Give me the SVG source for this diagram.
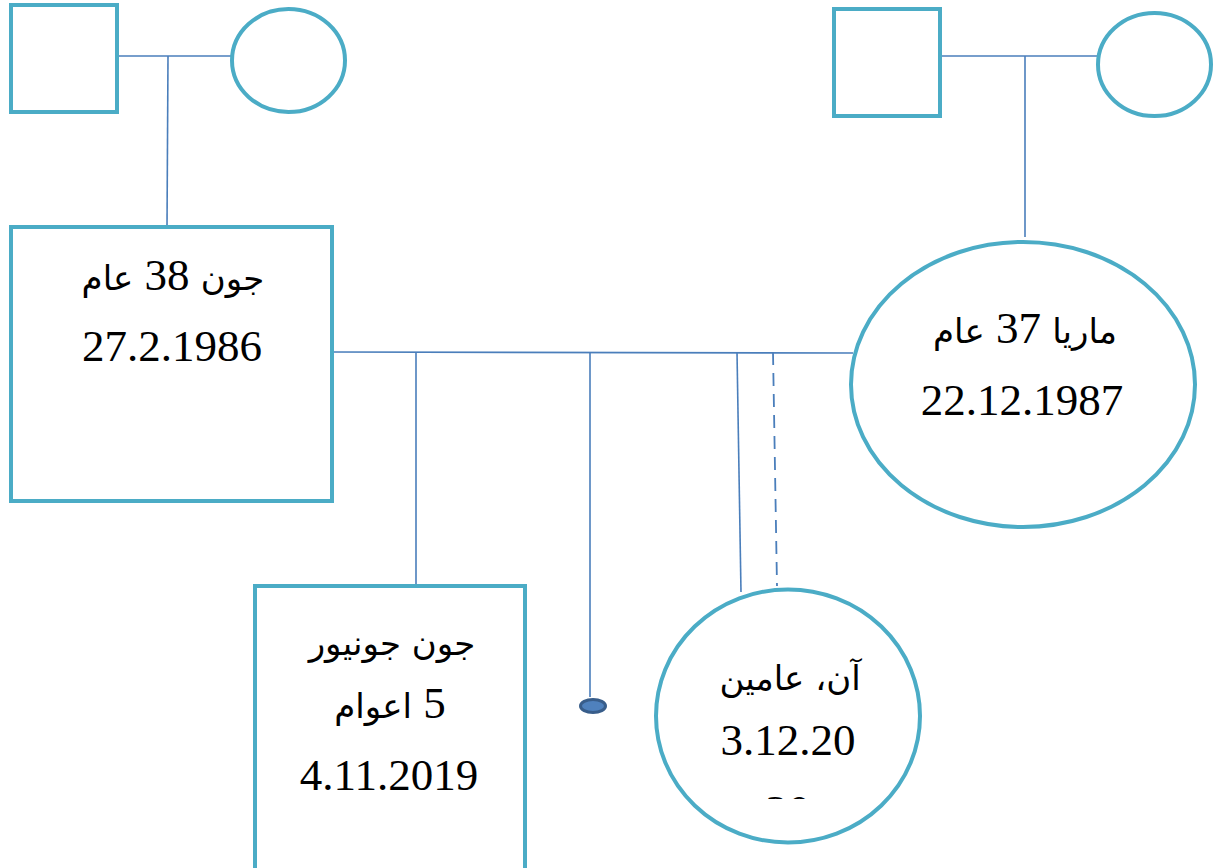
<svg xmlns="http://www.w3.org/2000/svg" width="1219" height="868" viewBox="0 0 1219 868">
  <style>
    .shape { fill: #ffffff; stroke: #4bacc6; stroke-width: 4; }
    .link { fill: none; stroke: #4a7ebb; stroke-width: 1.6; }
    .dash { stroke-dasharray: 13 8; stroke-width: 1.8; }
    .lbl { font-family: "Liberation Serif", "DejaVu Sans", serif; font-size: 45px; fill: #000000; text-anchor: middle; }
    .ar { direction: rtl; unicode-bidi: embed; }
    .aw { font-family: "DejaVu Sans", sans-serif; font-size: 34px; }
  </style>
  <defs>
    <clipPath id="annClip">
      <rect x="650" y="580" width="280" height="219"/>
    </clipPath>
  </defs>

  <g id="connectors">
    <!-- paternal grandparents -->
    <line class="link" x1="117" y1="56" x2="232" y2="56"/>
    <line class="link" x1="168" y1="56" x2="167" y2="227"/>
    <!-- maternal grandparents -->
    <line class="link" x1="940" y1="56" x2="1098" y2="56"/>
    <line class="link" x1="1025" y1="56" x2="1025" y2="237"/>
    <!-- couple line -->
    <line class="link" x1="332" y1="352" x2="853" y2="353"/>
    <!-- children -->
    <line class="link" x1="416" y1="352" x2="416" y2="586"/>
    <line class="link" x1="590" y1="352" x2="590" y2="697"/>
    <line class="link" x1="737" y1="352" x2="741" y2="592"/>
    <line class="link dash" x1="773" y1="352" x2="777" y2="586"/>
  </g>

  <g id="grandfather-paternal">
    <rect class="shape" x="11" y="5" width="106" height="107"/>
  </g>
  <g id="grandmother-paternal">
    <ellipse class="shape" cx="288.5" cy="60.5" rx="56.5" ry="51.5"/>
  </g>
  <g id="grandfather-maternal">
    <rect class="shape" x="834" y="9" width="106" height="107"/>
  </g>
  <g id="grandmother-maternal">
    <ellipse class="shape" cx="1154.5" cy="64.5" rx="56.5" ry="51.5"/>
  </g>

  <g id="john">
    <rect class="shape" x="11" y="227" width="321" height="274"/>
    <text class="lbl ar" x="173" y="290"><tspan class="aw">جون</tspan> 38 <tspan class="aw">عام</tspan></text>
    <text class="lbl" x="172" y="361">27.2.1986</text>
  </g>

  <g id="maria">
    <ellipse class="shape" cx="1023" cy="384.5" rx="172" ry="142.5"/>
    <text class="lbl ar" x="1025" y="343"><tspan class="aw">ماريا</tspan> 37 <tspan class="aw">عام</tspan></text>
    <text class="lbl" x="1022" y="415">22.12.1987</text>
  </g>

  <g id="john-junior">
    <rect class="shape" x="255" y="586" width="270" height="300"/>
    <text class="lbl ar aw" x="392" y="655">جون جونيور</text>
    <text class="lbl ar" x="390" y="718">5 <tspan class="aw">اعوام</tspan></text>
    <text class="lbl" x="389" y="790">4.11.2019</text>
  </g>

  <g id="miscarriage">
    <ellipse cx="593" cy="706" rx="12.5" ry="6.5" fill="#4f81bd" stroke="#385d8a" stroke-width="3"/>
  </g>

  <g id="ann">
    <ellipse class="shape" cx="788" cy="716" rx="132" ry="126.5"/>
    <text class="lbl ar aw" x="790" y="690">آن، عامين</text>
    <text class="lbl" x="788" y="755">3.12.20</text>
    <text class="lbl" x="788" y="826" clip-path="url(#annClip)">20</text>
  </g>
</svg>
